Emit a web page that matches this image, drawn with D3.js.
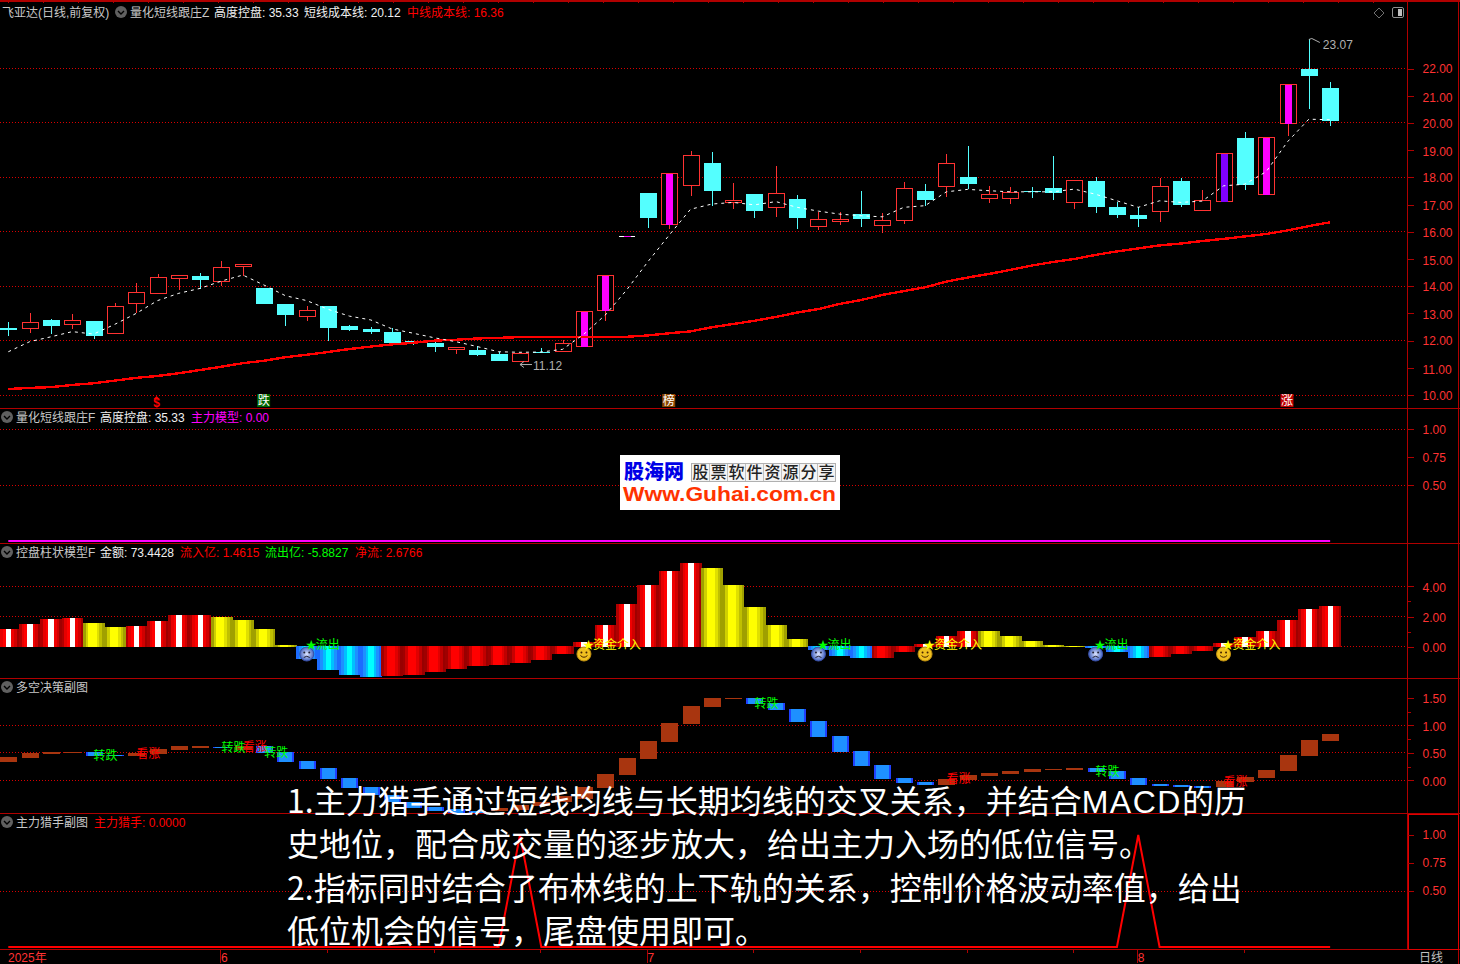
<!DOCTYPE html>
<html>
<head>
    <title>飞亚达 日线</title>
    <meta charset="UTF-8">
    <style>
        html, body { margin: 0; padding: 0; background: #000; overflow: hidden; }
        svg { display: block; }
        text { font-family: "Liberation Sans", "Noto Sans CJK SC", sans-serif; }
    </style>
</head>
<body>
    <div id="chart"></div>
    <script src="https://d3js.org/d3.v7.min.js"></script>
    <script>
    // candles
    const openPrice = [12.46,12.44,12.76,12.62,12.72,12.25,13.36,13.76,14.28,14.38,14.17,14.72,13.93,13.35,12.90,13.27,12.54,12.43,12.32,11.99,11.91,11.69,11.65,11.51,11.22,11.58,11.59,11.81,13.10,15.81,17.43,16.26,17.69,18.53,17.08,17.39,16.92,17.21,16.22,16.37,16.65,16.25,16.41,17.50,17.69,18.01,17.22,17.25,17.50,17.61,17.07,17.87,16.91,16.62,16.74,17.87,16.78,17.14,19.45,17.36,20.00,21.99,21.29];
    const closePrice = [12.39,12.67,12.54,12.75,12.17,13.26,13.78,14.33,14.40,14.23,14.69,14.81,13.35,12.94,13.13,12.46,12.39,12.32,11.91,11.95,11.76,11.76,11.47,11.25,11.53,11.54,11.90,13.08,14.40,15.85,16.51,18.15,18.81,17.50,17.16,16.76,17.42,16.51,16.46,16.46,16.47,16.42,17.60,17.17,18.52,17.76,17.38,17.47,17.46,17.43,17.89,16.91,16.62,16.47,17.67,16.99,17.16,18.89,17.72,19.47,21.42,21.73,20.07];
    const highPrice = [12.68,13.01,12.79,12.98,12.72,13.37,14.11,14.44,14.40,14.47,14.92,14.81,13.93,13.35,13.27,13.27,12.57,12.50,12.46,11.99,11.99,11.76,11.80,11.58,11.53,11.73,12.02,13.08,14.40,15.85,17.43,18.15,18.97,18.93,17.79,17.39,18.42,17.35,16.73,16.73,17.50,16.69,17.83,17.76,18.86,19.15,17.68,17.65,17.65,18.79,17.89,18.01,17.10,16.91,17.99,17.98,17.54,18.89,19.67,19.47,21.42,23.07,21.51];
    const lowPrice = [12.17,12.28,12.24,12.43,12.06,12.25,13.00,13.76,13.86,13.90,14.02,14.39,13.35,12.54,12.72,11.99,12.35,12.24,11.91,11.84,11.58,11.51,11.43,11.25,11.22,11.54,11.59,11.81,12.72,15.81,16.14,16.10,17.33,16.95,16.84,16.51,16.54,16.10,16.07,16.25,16.18,15.96,16.29,16.95,17.28,17.57,17.06,17.02,17.24,17.17,16.84,16.69,16.51,16.18,16.36,16.91,16.78,17.14,17.54,17.36,19.52,20.51,19.89];
    const shortCost = [11.59,11.96,12.14,12.33,12.24,12.60,13.00,13.47,13.74,13.92,14.19,14.41,14.04,13.65,13.47,13.15,12.90,12.76,12.43,12.27,12.10,11.96,11.78,11.59,11.57,11.58,11.68,12.24,12.94,13.86,14.90,15.88,16.83,17.02,17.08,16.99,17.11,16.90,16.76,16.65,16.59,16.55,16.90,16.96,17.47,17.56,17.51,17.47,17.47,17.47,17.57,17.38,17.14,16.90,17.14,17.08,17.13,17.69,17.75,18.21,19.31,20.14,20.12];
    const midCost = [10.22,10.26,10.29,10.37,10.43,10.53,10.63,10.70,10.80,10.92,11.04,11.17,11.26,11.39,11.48,11.58,11.69,11.78,11.86,11.92,12.00,12.03,12.08,12.10,12.13,12.13,12.13,12.13,12.13,12.14,12.19,12.27,12.34,12.49,12.61,12.73,12.87,13.03,13.16,13.35,13.49,13.68,13.82,13.96,14.17,14.32,14.45,14.60,14.76,14.89,15.00,15.15,15.28,15.39,15.50,15.57,15.66,15.74,15.83,15.92,16.05,16.21,16.35];
    const magentaBars = [27, 28, 31, 59, 60];
    const purpleBars = [57];
    const flatBars = [29];
    const barCount = openPrice.length;

    // 控盘柱状模型F
    const moneyFlow = [1.17,1.50,1.83,1.90,1.57,1.30,1.37,1.70,2.10,2.10,1.97,1.77,1.17,0.11,-0.81,-1.54,-1.87,-2.00,-1.93,-1.87,-1.67,-1.47,-1.27,-1.21,-1.08,-0.88,-0.48,0.31,1.44,2.83,4.09,5.01,5.54,5.21,4.09,2.63,1.44,0.51,-0.22,-0.62,-0.75,-0.75,-0.35,0.18,0.71,1.04,1.04,0.71,0.38,0.11,0.05,-0.09,-0.35,-0.75,-0.68,-0.48,-0.28,0.25,0.64,1.04,1.77,2.50,2.70];
    const flowKind = "rrrryyrrrryyyybbbbdddddddddrrrrrryyyyybbbdd" + "rrryyyyybbbdddrrrrrr";

    // 多空决策副图
    const boxTop = [0.425,0.50,0.52,0.52,0.52,0.46,0.50,0.57,0.63,0.63,0.61,0.63,0.63,0.52,0.35,0.23,0.04,-0.12,-0.27,-0.39,-0.48,-0.52,-0.56,-0.50,-0.45,-0.39,-0.28,-0.12,0.12,0.41,0.72,1.04,1.35,1.50,1.50,1.50,1.41,1.30,1.08,0.81,0.53,0.28,0.04,-0.03,0.03,0.10,0.13,0.17,0.21,0.21,0.23,0.23,0.17,0.04,-0.07,-0.08,-0.10,-0.01,0.06,0.19,0.46,0.73,0.84];
    const boxBottom = [0.335,0.41,0.48,0.50,0.44,0.45,0.44,0.48,0.55,0.59,0.59,0.55,0.50,0.33,0.21,0.03,-0.14,-0.27,-0.39,-0.50,-0.56,-0.59,-0.61,-0.56,-0.54,-0.47,-0.39,-0.34,-0.14,0.10,0.39,0.70,1.03,1.33,1.48,1.39,1.28,1.06,0.79,0.52,0.26,0.03,-0.05,-0.08,-0.08,0.01,0.08,0.12,0.15,0.19,0.19,0.15,0.03,-0.08,-0.10,-0.12,-0.14,-0.12,-0.03,0.04,0.17,0.44,0.72];
    const blueBoxes = [4,5,10,12,13,14,15,16,17,18,19,20,21,22,35,36,37,38,39,40,41,42,43,51,52,53,54,55,56];

    // 主力猎手 and 主力模型
    const hunterBars = [24, 53];
    const modelValues = d3.range(barCount).map(() => 0);

    // signals
    const sadBars = [14, 38, 51];
    const happyBars = [27, 43, 57];
    const markerBars = [{bar: 12, text: "跌", color: "#006400"}, {bar: 31, text: "榜", color: "#8b4500"}, {bar: 60, text: "涨", color: "#c00000"}];
    const turnDown = [{bar: 4, v: 0.46}, {bar: 10, v: 0.61}, {bar: 12, v: 0.52}, {bar: 35, v: 1.41}, {bar: 51, v: 0.17}];
    const turnUp = [{bar: 6, v: 0.50}, {bar: 11, v: 0.63}, {bar: 44, v: 0.04}, {bar: 57, v: -0.01}];

    const priceTicks = [22,21,20,19,18,17,16,15,14,13,12,11,10];
    const priceGrid = [22,20,18,16,14,12,10];
    const unitTicks = [1.00,0.75,0.50];
    const flowTicks = [4,2,0];
    const boxTicks = [1.5,1,0.5,0];
    const monthLabels = [{bar: 10, text: "6"}, {bar: 30, text: "7"}, {bar: 53, text: "8"}];
    const minorMonthTicks = [15,20,25,35,40,45,50,58];
    const noteLines = [
        "1.主力猎手通过短线均线与长期均线的交叉关系，并结合MACD的历",
        "史地位，配合成交量的逐步放大，给出主力入场的低位信号。",
        "2.指标同时结合了布林线的上下轨的关系，控制价格波动率值，给出",
        "低位机会的信号，尾盘使用即可。"
    ];

    const width = 1460, height = 964;
    const axisX = 1407.5;
    const red = "#ff3232", cyan = "#54ffff", lineRed = "#b00000", gridRed = "#d80000";

    const svg = d3.select("#chart").append("svg")
        .attr("width", width)
        .attr("height", height)
        .style("background", "#000");

    const x = d3.scaleBand().domain(d3.range(barCount)).range([-2.36, 1340.8]);
    const cx = (i) => x(i) + x.bandwidth() / 2;

    const yPrice = d3.scaleLinear().domain([10, 22]).range([395, 68.6]);
    const yModel = d3.scaleLinear().domain([0, 1]).range([541, 429]);
    const yFlow = d3.scaleLinear().domain([0, 4]).range([646.7, 586.4]);
    const yBox = d3.scaleLinear().domain([0, 1.5]).range([780.4, 698]);
    const yHunter = d3.scaleLinear().domain([0, 1]).range([947, 835]);

    // stripes for the column bars
    const defs = svg.append("defs");
    const stripes = {
        r: ["#b00000", "#e60000", "#ff0000", "#ffffff", "#ffffff", "#f00000", "#d00000", "#a00000"],
        y: ["#a0a000", "#d0d000", "#ffff00", "#ffff00", "#ffff00", "#e0e000", "#c0c000", "#a0a000"],
        b: ["#1c6cff", "#1e90ff", "#00c0ff", "#00ffff", "#00ffff", "#00c0ff", "#1e90ff", "#1c6cff"],
        d: ["#a00000", "#c80000", "#ff0000", "#ff0000", "#ff0000", "#e00000", "#c00000", "#980000"],
        p: ["#2040ff", "#1e90ff", "#1e90ff", "#1e90ff", "#1e90ff", "#1e90ff", "#1e90ff", "#2040ff"]
    };
    Object.keys(stripes).forEach(function(key) {
        const grad = defs.append("linearGradient").attr("id", "stripe-" + key);
        stripes[key].forEach(function(c, i) {
            grad.append("stop").attr("offset", i / 8).attr("stop-color", c);
            grad.append("stop").attr("offset", (i + 1) / 8).attr("stop-color", c);
        });
    });
    defs.append("clipPath").attr("id", "box-clip").append("rect")
        .attr("x", 0).attr("y", 680).attr("width", axisX).attr("height", 133);
    const sadGrad = defs.append("radialGradient").attr("id", "sad-face");
    sadGrad.append("stop").attr("offset", 0).attr("stop-color", "#dfe6ff");
    sadGrad.append("stop").attr("offset", 1).attr("stop-color", "#4464c0");

    // dotted grid
    function dotted(values, scale) {
        svg.append("g").selectAll("line").data(values).join("line")
            .attr("x1", 0).attr("x2", axisX)
            .attr("y1", (d) => Math.floor(scale(d)) + 0.5)
            .attr("y2", (d) => Math.floor(scale(d)) + 0.5)
            .style("stroke", gridRed)
            .style("stroke-dasharray", "1 2")
            .style("shape-rendering", "crispEdges");
    }
    dotted(priceGrid, yPrice);
    dotted([1, 0.5], yModel);
    dotted([4, 2, 0], yFlow);
    dotted([1, 0.5, 0], yBox);
    dotted([0.5], yHunter);

    // candles
    const candle = svg.append("g").style("shape-rendering", "crispEdges");
    d3.range(barCount).forEach(function(i) {
        const up = closePrice[i] >= openPrice[i];
        const mid = Math.round(cx(i));
        const color = up ? red : cyan;
        const top = yPrice(Math.max(openPrice[i], closePrice[i]));
        const bottom = yPrice(Math.min(openPrice[i], closePrice[i]));
        if (flatBars.includes(i)) {
            candle.append("rect").attr("x", mid - 8).attr("y", top).attr("width", 16).attr("height", 1).style("fill", "#fff");
            candle.append("rect").attr("x", mid - 3).attr("y", top).attr("width", 7).attr("height", 1).style("fill", "#ff00ff");
            return;
        }
        candle.append("line")
            .attr("x1", mid + 0.5).attr("x2", mid + 0.5)
            .attr("y1", yPrice(highPrice[i])).attr("y2", yPrice(lowPrice[i]))
            .style("stroke", color);
        if (up) {
            candle.append("rect")
                .attr("x", mid - 7.5).attr("y", Math.round(top) + 0.5)
                .attr("width", 16).attr("height", Math.max(1, Math.round(bottom - top)))
                .style("fill", "#000").style("stroke", color);
            if (magentaBars.includes(i) || purpleBars.includes(i)) {
                candle.append("rect")
                    .attr("x", mid - 3).attr("y", Math.round(top) + 1)
                    .attr("width", 7).attr("height", Math.max(1, Math.round(bottom - top)))
                    .style("fill", magentaBars.includes(i) ? "#ff00ff" : "#8000ff");
            }
        } else {
            candle.append("rect")
                .attr("x", mid - 8).attr("y", Math.round(top))
                .attr("width", 17).attr("height", Math.max(1, Math.round(bottom - top)))
                .style("fill", color);
        }
    });

    // cost lines
    const priceLine = d3.line().x((d, i) => cx(i)).y((d) => yPrice(d));
    svg.append("path").datum(midCost)
        .attr("d", priceLine)
        .style("fill", "none").style("stroke", "#ff0000").style("stroke-width", 2.4)
        .style("shape-rendering", "crispEdges");
    svg.append("path").datum(shortCost)
        .attr("d", priceLine)
        .style("fill", "none").style("stroke", "#ffffff").style("stroke-width", 1)
        .style("stroke-dasharray", "3 4");

    // high and low notes
    const noteColor = "#b0b0b0";
    const highBar = highPrice.indexOf(d3.max(highPrice));
    svg.append("path")
        .attr("d", `M${cx(highBar)},${yPrice(23.07)} l3,-1 l8,4`)
        .style("fill", "none").style("stroke", noteColor);
    svg.append("text").attr("x", cx(highBar) + 14).attr("y", yPrice(23.07) + 10)
        .text("23.07").style("fill", noteColor).style("font-size", "12px");
    const lowBar = 24;
    svg.append("path")
        .attr("d", `M${cx(lowBar) + 12},${yPrice(11.12)} h-12 l4,-3 m-4,3 l4,3`)
        .style("fill", "none").style("stroke", noteColor);
    svg.append("text").attr("x", cx(lowBar) + 13).attr("y", yPrice(11.12) + 5.5)
        .text("11.12").style("fill", noteColor).style("font-size", "12px");

    // markers under the candles
    svg.append("text").attr("x", cx(7) - 1).attr("y", 407).attr("text-anchor", "middle")
        .text("$").style("fill", "#ff0000").style("font-size", "12px").style("font-weight", "bold");
    svg.append("path").attr("d", `M${cx(7) - 4},399 l3,-3 l3,3 Z`).style("fill", "#ff0000");
    const marker = svg.append("g").selectAll("g").data(markerBars).join("g");
    marker.append("rect")
        .attr("x", (d) => cx(d.bar) - 7).attr("y", 394)
        .attr("width", 13).attr("height", 13)
        .style("fill", (d) => d.color);
    marker.append("text")
        .attr("x", (d) => cx(d.bar) - 0.5).attr("y", 405).attr("text-anchor", "middle")
        .text((d) => d.text).style("fill", "#fff").style("font-size", "12px");

    // 主力模型 line
    svg.append("path").datum(modelValues)
        .attr("d", d3.line().x((d, i) => cx(i)).y((d) => yModel(d)))
        .style("fill", "none").style("stroke", "#ff00ff").style("stroke-width", 2);

    // money flow columns
    svg.append("g").selectAll("rect").data(moneyFlow).join("rect")
        .attr("x", (d, i) => x(i))
        .attr("y", (d) => d >= 0 ? yFlow(d) : yFlow(0) - 1)
        .attr("width", x.bandwidth() + 0.5)
        .attr("height", (d) => Math.abs(yFlow(d) - yFlow(0)) + (d >= 0 ? 0 : 1))
        .style("fill", (d, i) => `url(#stripe-${flowKind[i]})`)
        .style("shape-rendering", "crispEdges");

    function starLabel(i, label, color) {
        svg.append("text").attr("x", cx(i) - 1).attr("y", 648.5)
            .text("★").style("fill", color).style("font-size", "11px");
        svg.append("text").attr("x", cx(i) + 9).attr("y", 649)
            .text(label).style("fill", color).style("font-size", "12px");
    }
    sadBars.forEach(function(i) {
        const f = svg.append("g").attr("transform", `translate(${cx(i)},654)`);
        f.append("circle").attr("r", 7).style("fill", "url(#sad-face)").style("stroke", "#3a50a8");
        f.append("circle").attr("cx", -2.5).attr("cy", -1.5).attr("r", 1).style("fill", "#223");
        f.append("circle").attr("cx", 2.5).attr("cy", -1.5).attr("r", 1).style("fill", "#223");
        f.append("path").attr("d", "M-3,3.5 Q0,1 3,3.5").style("fill", "none").style("stroke", "#223");
        starLabel(i, "流出", "#00ff00");
    });
    happyBars.forEach(function(i) {
        const f = svg.append("g").attr("transform", `translate(${cx(i)},654)`);
        f.append("circle").attr("r", 7).style("fill", "#f0c020").style("stroke", "#c09010");
        f.append("circle").attr("cx", -2.5).attr("cy", -1.5).attr("r", 1).style("fill", "#420");
        f.append("circle").attr("cx", 2.5).attr("cy", -1.5).attr("r", 1).style("fill", "#420");
        f.append("path").attr("d", "M-3.5,1.5 Q0,5 3.5,1.5").style("fill", "none").style("stroke", "#420");
        starLabel(i, "资金介入", "#ffff00");
    });

    // 多空决策 boxes
    const boxGroup = svg.append("g").attr("clip-path", "url(#box-clip)");
    boxGroup.selectAll("rect").data(boxTop).join("rect")
        .attr("x", (d, i) => Math.round(cx(i)) - 8)
        .attr("y", (d) => yBox(d))
        .attr("width", 17)
        .attr("height", (d, i) => Math.max(1, yBox(boxBottom[i]) - yBox(d)))
        .style("fill", (d, i) => blueBoxes.includes(i) ? "url(#stripe-p)" : "#a8350f")
        .style("shape-rendering", "crispEdges");
    function boxLabels(items, label, color) {
        boxGroup.selectAll(null).data(items).join("text")
            .attr("x", (d) => cx(d.bar))
            .attr("y", (d) => yBox(d.v) + 5)
            .text(label).style("fill", color).style("font-size", "12px");
    }
    boxLabels(turnDown, "转跌", "#00ff00");
    boxLabels(turnUp, "看涨", "#ff0000");

    // 主力猎手 line
    svg.append("path").datum(d3.range(barCount).map((i) => hunterBars.includes(i) ? 1 : 0))
        .attr("d", d3.line().x((d, i) => cx(i)).y((d) => yHunter(d)))
        .style("fill", "none").style("stroke", "#ff0000").style("stroke-width", 2);

    // panel frame
    const frame = svg.append("g").style("shape-rendering", "crispEdges");
    [0.5, 1.5, 408.5, 543.5, 678.5, 813.5, 949.5].forEach(function(y) {
        frame.append("line").attr("x1", 0).attr("x2", width).attr("y1", y).attr("y2", y).style("stroke", lineRed);
    });
    frame.append("line").attr("x1", axisX).attr("x2", axisX).attr("y1", 0).attr("y2", 949).style("stroke", lineRed);
    frame.append("line").attr("x1", 1458.5).attr("x2", 1458.5).attr("y1", 0).attr("y2", height).style("stroke", lineRed);
    frame.append("rect").attr("x", 1408.5).attr("y", 814.5).attr("width", 50).attr("height", 135)
        .style("fill", "none").style("stroke", "#e00000");
    frame.selectAll(".toptick").data(d3.range(8, 1408, 35)).join("line")
        .attr("x1", (d) => d + 0.5).attr("x2", (d) => d + 0.5)
        .attr("y1", 0).attr("y2", 3).style("stroke", lineRed);

    // value axes
    function valueAxis(scale, labels, fmt, minor, shift) {
        const g = svg.append("g").attr("transform", `translate(${axisX},0)`)
            .call(d3.axisRight(scale).tickValues(labels).tickSize(6).tickPadding(9).tickFormat(fmt));
        g.select(".domain").remove();
        g.selectAll("line").style("stroke", lineRed).style("shape-rendering", "crispEdges");
        g.selectAll("text").style("fill", red).style("font-size", "12px")
            .style("font-family", '"Liberation Sans", sans-serif')
            .attr("y", shift);
        const m = svg.append("g").attr("transform", `translate(${axisX},0)`)
            .call(d3.axisRight(scale).tickValues(minor).tickSize(3).tickFormat(""));
        m.select(".domain").remove();
        m.selectAll("line").style("stroke", lineRed).style("shape-rendering", "crispEdges");
    }
    const fmt2 = d3.format(".2f");
    valueAxis(yPrice, priceTicks, fmt2, [], (d) => d % 2 ? 1.5 : 0.5);
    valueAxis(yModel, unitTicks, fmt2, [0.75], 1);
    valueAxis(yFlow, flowTicks, fmt2, [3, 1], 1);
    valueAxis(yBox, boxTicks, fmt2, [1.25, 0.75, 0.25], 1);
    valueAxis(yHunter, unitTicks, fmt2, [0.75], 0);

    // time axis
    const timeAxis = svg.append("g");
    timeAxis.append("text").attr("x", 8).attr("y", 962)
        .text("2025年").style("fill", red).style("font-size", "12px");
    timeAxis.selectAll("line").data(monthLabels.map((d) => ({bar: d.bar, h: 13})).concat(minorMonthTicks.map((d) => ({bar: d, h: 3})))).join("line")
        .attr("x1", (d) => Math.round(cx(d.bar)) - 0.5).attr("x2", (d) => Math.round(cx(d.bar)) - 0.5)
        .attr("y1", 950).attr("y2", (d) => 950 + d.h)
        .style("stroke", lineRed).style("shape-rendering", "crispEdges");
    timeAxis.selectAll("text.month").data(monthLabels).join("text")
        .attr("class", "month")
        .attr("x", (d) => cx(d.bar) - 0.5).attr("y", 962)
        .text((d) => d.text).style("fill", red).style("font-size", "12px");
    svg.append("text").attr("x", 1419).attr("y", 962)
        .text("日线").style("fill", "#c0c0c0").style("font-size", "12px");

    // panel titles
    function chevron(px, py) {
        const g = svg.append("g").attr("transform", `translate(${px},${py})`);
        g.append("circle").attr("r", 6).style("fill", "#606060");
        g.append("path").attr("d", "M-3,-1 L0,2 L3,-1").style("fill", "none").style("stroke", "#000").style("stroke-width", 1.4);
    }
    function title(px, py, label, color) {
        svg.append("text").attr("x", px).attr("y", py)
            .text(label).style("fill", color).style("font-size", "12px");
    }
    const grey = "#c8c8c8", white = "#f0f0f0";
    title(2, 16.5, "飞亚达(日线,前复权)", grey);
    chevron(121, 12);
    title(130, 16.5, "量化短线跟庄Z", grey);
    title(214, 16.5, "高度控盘: 35.33", white);
    title(304, 16.5, "短线成本线: 20.12", white);
    title(407, 16.5, "中线成本线: 16.36", "#ff0000");
    chevron(7, 417);
    title(16, 421.5, "量化短线跟庄F", grey);
    title(100, 421.5, "高度控盘: 35.33", white);
    title(191, 421.5, "主力模型: 0.00", "#ff00ff");
    chevron(7, 552);
    title(16, 556.5, "控盘柱状模型F", grey);
    title(100, 556.5, "金额: 73.4428", white);
    title(180, 556.5, "流入亿: 1.4615", "#ff0000");
    title(265, 556.5, "流出亿: -5.8827", "#00ff00");
    title(355, 556.5, "净流: 2.6766", "#ff0000");
    chevron(7, 687);
    title(16, 691.5, "多空决策副图", grey);
    chevron(7, 822);
    title(16, 826.5, "主力猎手副图", grey);
    title(94, 826.5, "主力猎手: 0.0000", "#ff0000");

    // window icons
    svg.append("path").attr("d", "M1379,8 L1384,13 L1379,18 L1374,13 Z")
        .style("fill", "none").style("stroke", "#707070");
    svg.append("rect").attr("x", 1392.5).attr("y", 7.5).attr("width", 11).attr("height", 10).attr("rx", 1.5)
        .style("fill", "none").style("stroke", "#909090");
    svg.append("rect").attr("x", 1398).attr("y", 9).attr("width", 4).attr("height", 7).style("fill", "#c0c0c0");

    // site stamp
    const stamp = svg.append("g");
    stamp.append("rect").attr("x", 620).attr("y", 455).attr("width", 220).attr("height", 55).style("fill", "#fff");
    stamp.append("text").attr("x", 624).attr("y", 479).text("股海网")
        .style("fill", "#0000e6").style("font-size", "20px").style("font-weight", "900")
        .style("font-family", '"Noto Sans CJK SC"');
    stamp.append("rect").attr("x", 691.5).attr("y", 463.5).attr("width", 144).attr("height", 18)
        .style("fill", "#f4f4f4").style("stroke", "#b0b0b0");
    Array.from("股票软件资源分享").forEach(function(c, i) {
        if (i > 0) {
            stamp.append("line").attr("x1", 691.5 + i * 18).attr("x2", 691.5 + i * 18).attr("y1", 464).attr("y2", 481)
                .style("stroke", "#c0c0c0");
        }
        stamp.append("text").attr("x", 700.5 + i * 18).attr("y", 478).attr("text-anchor", "middle").text(c)
            .style("fill", "#222").style("font-size", "16px").style("font-weight", "500")
            .style("font-family", '"Noto Sans CJK SC"');
    });
    stamp.append("text").attr("x", 623).attr("y", 501).text("Www.Guhai.com.cn")
        .attr("textLength", 213).attr("lengthAdjust", "spacingAndGlyphs")
        .style("fill", "#ff3300").style("font-size", "20px").style("font-weight", "bold")
        .style("font-family", '"Liberation Sans"');

    // the note over the chart
    const note = svg.append("g").selectAll("text").data(noteLines).join("text")
        .attr("x", 287)
        .attr("y", (d, i) => 813 + i * 43.3)
        .style("fill", "#ffffff")
        .style("font-size", "32px")
        .style("font-family", '"Noto Sans CJK SC"');
    note.each(function(d) {
        // latin word runs wider in the original
        d.split(/(MACD)/).forEach((part) => {
            d3.select(this).append("tspan").text(part)
                .style("font-family", part === "MACD" ? '"Liberation Sans"' : null)
                .style("letter-spacing", part === "MACD" ? "1.5px" : null);
        });
    });
    </script>
</body>
</html>
